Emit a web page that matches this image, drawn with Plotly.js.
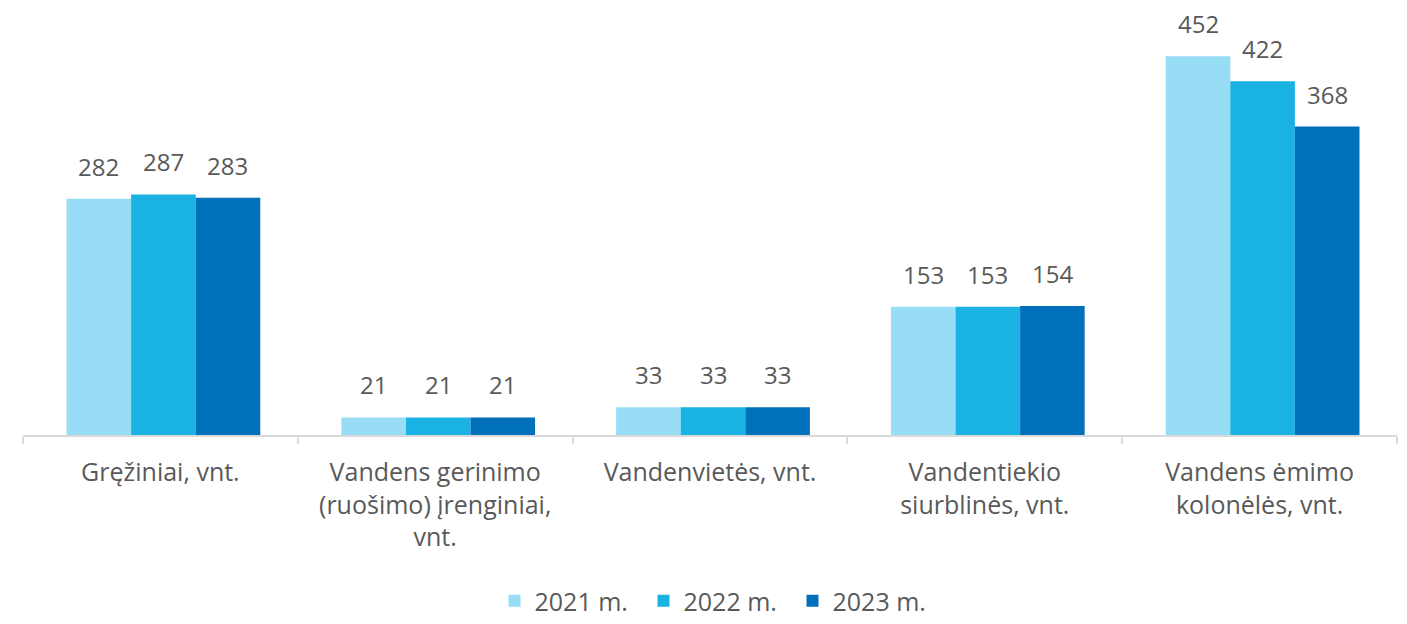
<!DOCTYPE html>
<html>
<head>
<meta charset="utf-8">
<script src="https://cdn.plot.ly/plotly-3.0.1.min.js"></script>
<style>html,body{margin:0;padding:0;background:#fff;}#chart{width:1407px;height:624px;}</style>
</head>
<body>
<div id="chart"></div>
<script>
const categories = [
  "Gręžiniai, vnt.",
  "Vandens gerinimo<br>(ruošimo) įrenginiai,<br>vnt.",
  "Vandenvietės, vnt.",
  "Vandentiekio<br>siurblinės, vnt.",
  "Vandens ėmimo<br>kolonėlės, vnt."
];
const seriesNames = ["2021 m.", "2022 m.", "2023 m."];
const values2021 = [282, 21, 33, 153, 452];
const values2022 = [287, 21, 33, 153, 422];
const values2023 = [283, 21, 33, 154, 368];
const seriesColors = ["#97DDF5", "#19B2E2", "#0070BA"];

const allValues = [values2021, values2022, values2023];
const FONT = "Open Sans, sans-serif";
const TXT = "#595959";

const W = 1407, H = 624;
const margin = { l: 23, r: 10, t: 16, b: 189 };
const plotW = W - margin.l - margin.r;
const catW = plotW / categories.length;
const groupFrac = 0.705;
const barFrac = groupFrac / allValues.length;
const shift = 3 / catW;

const traces = allValues.map((vals, i) => ({
  type: "bar",
  name: seriesNames[i],
  x: categories,
  y: vals,
  width: barFrac,
  offset: -groupFrac / 2 + i * barFrac + shift,
  marker: { color: seriesColors[i], line: { width: 0 } },
  hoverinfo: "skip"
}));

const annotations = [];
allValues.forEach((vals, i) => {
  const off = (-groupFrac / 2 + i * barFrac + shift + barFrac / 2) * catW;
  vals.forEach((v, j) => {
    annotations.push({
      x: categories[j], y: v, xref: "x", yref: "y",
      text: String(v), showarrow: false,
      xshift: off, yshift: 14, yanchor: "bottom",
      font: { family: FONT, size: 24, color: TXT }
    });
  });
});

const layout = {
  width: W, height: H, margin: margin,
  paper_bgcolor: "#fff", plot_bgcolor: "#fff",
  barmode: "overlay",
  font: { family: FONT, size: 24, color: TXT },
  xaxis: {
    type: "category",
    showline: true, linecolor: "#d9d9d9", linewidth: 2,
    ticks: "outside", tickson: "boundaries", ticklen: 7, tickcolor: "#d9d9d9", tickwidth: 2,
    showgrid: false, zeroline: false,
    tickfont: { family: FONT, size: 25, color: TXT },
    ticklabelstandoff: 14,
    automargin: false
  },
  yaxis: { visible: false, range: [0, 500], fixedrange: true },
  showlegend: true,
  legend: {
    orientation: "h", x: 0.5 + 8 / plotW, xanchor: "center",
    yref: "container", y: 0, yanchor: "bottom",
    font: { family: FONT, size: 25, color: TXT },
    entrywidth: 104, entrywidthmode: "pixels",
    itemclick: false, itemdoubleclick: false,
    traceorder: "normal"
  },
  annotations: annotations
};

Plotly.newPlot("chart", traces, layout, { displayModeBar: false, staticPlot: true });
</script>
</body>
</html>
